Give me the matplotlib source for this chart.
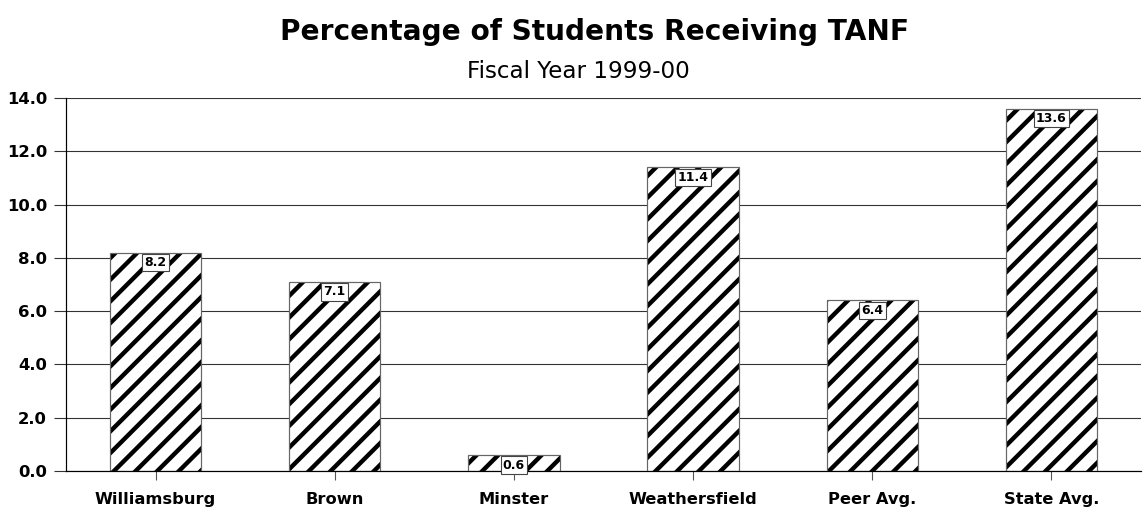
import matplotlib
matplotlib.use("Agg")
import matplotlib.pyplot as plt

DPI = 130


def px(n):
    # pixel size -> points at the chosen dpi
    return n * 72.0 / DPI


categories = ["Williamsburg", "Brown", "Minster", "Weathersfield", "Peer Avg.", "State Avg."]
values = [8.2, 7.1, 0.6, 11.4, 6.4, 13.6]
yticks = [0.0, 2.0, 4.0, 6.0, 8.0, 10.0, 12.0, 14.0]

plt.rcParams["font.family"] = ["DejaVu Sans"]
plt.rcParams["hatch.linewidth"] = px(4.4)

fig = plt.figure(figsize=(1145 / DPI, 512 / DPI), dpi=DPI)
ax = fig.add_axes([66 / 1145, 1 - 471 / 512, (1141 - 66) / 1145, (471 - 98) / 512])

x = list(range(len(categories)))
# hatched fill, then a thin grey outline on top
ax.bar(x, values, width=0.51, color="white", edgecolor="black", hatch="//", linewidth=0, zorder=2)
ax.bar(x, values, width=0.51, fill=False, edgecolor="#666666", linewidth=px(1.2), zorder=3)

for xi, v in zip(x, values):
    ax.annotate(f"{v:.1f}", (xi, v), xytext=(0, -px(3.5)), textcoords="offset points",
                ha="center", va="top", fontsize=px(12.5), fontweight="bold", zorder=5,
                bbox=dict(boxstyle="square,pad=0.18", fc="white", ec="#444444", lw=px(1.1)))

ax.set_xlim(-0.5, len(categories) - 0.5)
ax.set_ylim(0, 14)
ax.set_yticks(yticks)
ax.set_yticklabels([f"{t:.1f}" for t in yticks], fontsize=px(16.5), fontweight="bold")
ax.set_xticks(x)
ax.set_xticklabels(categories, fontsize=px(16.3), fontweight="bold")

ax.yaxis.grid(True, color="#333333", linewidth=px(1.1), zorder=0)
ax.set_axisbelow(True)
ax.tick_params(axis="y", length=px(12), width=px(1.1), color="#333333", pad=px(7))
ax.tick_params(axis="x", length=px(9), width=px(1.1), color="#555555", pad=px(12))

for side in ["top", "right"]:
    ax.spines[side].set_visible(False)
ax.spines["left"].set_linewidth(px(1.2))
ax.spines["bottom"].set_linewidth(px(1.2))

fig.text(595 / 1145, 1 - 40 / 512, "Percentage of Students Receiving TANF",
         ha="center", va="baseline", fontsize=px(28), fontweight="heavy")
fig.text(578 / 1145, 1 - 78 / 512, "Fiscal Year 1999-00",
         ha="center", va="baseline", fontsize=px(23))

fig.savefig("out.png", dpi=DPI)
